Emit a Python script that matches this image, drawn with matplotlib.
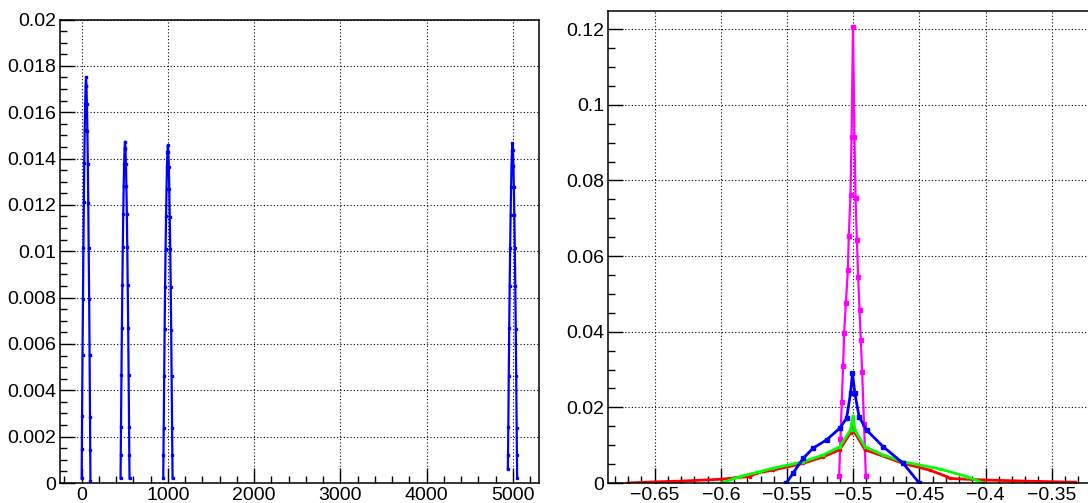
import matplotlib
matplotlib.use("Agg")
import matplotlib.pyplot as plt
from matplotlib.ticker import MultipleLocator, FuncFormatter

plt.rcParams['font.family'] = ['Liberation Sans', 'DejaVu Sans']

# left pad: four narrow peaks (blue)
p1_x = [1, 3.5, 6, 11, 16.5, 21.5, 26.5, 31.5, 36.5, 42, 47, 52, 57, 62, 67.5, 72.5, 77.5, 82.5, 88, 93, 98, 100.5, 103]
p1_y = [0.0002, 0.00145, 0.00287, 0.00553, 0.00796, 0.01015, 0.01211, 0.01381, 0.01524, 0.01636, 0.01715, 0.0175,
        0.01712, 0.01634, 0.0152, 0.01378, 0.01208, 0.01012, 0.00794, 0.00551, 0.00285, 0.00143, 0.0001]
p2_x = [452, 454.5, 457, 462.5, 467.5, 473, 478, 483, 488.5, 493.5, 499, 504, 509, 514.5, 519.5, 525, 530, 535, 540.5, 545.5, 551, 553.5, 556]
p2_y = [0.0002, 0.00122, 0.00242, 0.00465, 0.0067, 0.00854, 0.01019, 0.01162, 0.01283, 0.01377, 0.01444, 0.01473,
        0.01443, 0.01376, 0.01282, 0.01161, 0.01018, 0.00853, 0.00669, 0.00464, 0.00241, 0.00121, 0.0002]
p3_x = [947, 949.5, 952.5, 958, 963, 968.5, 974, 979.5, 985, 990, 995.5, 1001, 1006.5, 1012, 1017, 1022.5, 1028, 1033.5, 1039, 1044, 1049.5, 1052.5, 1055]
p3_y = [0.0002, 0.00121, 0.00239, 0.00461, 0.00663, 0.00846, 0.01009, 0.0115, 0.0127, 0.01363, 0.01429, 0.01458,
        0.01428, 0.01362, 0.01269, 0.01149, 0.01008, 0.00845, 0.00662, 0.0046, 0.00238, 0.0012, 0.0002]
p4_x = [4942, 4944.5, 4947.5, 4953, 4958, 4963.5, 4969, 4974.5, 4980, 4985, 4990.5, 4996, 5001.5, 5007, 5012, 5017.5, 5023, 5028.5, 5034, 5039, 5044.5, 5047.5, 5050]
p4_y = [0.0006, 0.00122, 0.0024, 0.00463, 0.00667, 0.0085, 0.01014, 0.01157, 0.01277, 0.01371, 0.01437, 0.01466,
        0.01436, 0.0137, 0.01276, 0.01156, 0.01013, 0.00849, 0.00666, 0.00462, 0.00239, 0.00121, 0.0002]

# right pad: four distributions around -0.5
mag_x = [-0.5106, -0.5096, -0.5086, -0.5076, -0.5068, -0.5055, -0.5040, -0.5033, -0.5020, -0.5012, -0.5001,
         -0.4990, -0.4982, -0.4972, -0.4962, -0.4952, -0.4942, -0.4932, -0.4918, -0.4904]
mag_y = [0.0018, 0.0116, 0.0213, 0.0309, 0.0397, 0.0476, 0.0563, 0.0653, 0.0762, 0.0915, 0.1206,
         0.0915, 0.0754, 0.0643, 0.0545, 0.0458, 0.0378, 0.0294, 0.0156, 0.0018]
blue_x = [-0.5504, -0.5454, -0.5378, -0.5303, -0.5201, -0.5101, -0.5050, -0.5020, -0.5005,
          -0.4987, -0.4955, -0.4899, -0.4773, -0.4622, -0.4501]
blue_y = [0.0, 0.0026, 0.0065, 0.0092, 0.0114, 0.0145, 0.0171, 0.0237, 0.0290,
          0.0237, 0.0175, 0.0140, 0.0096, 0.0052, 0.0]
green_x = [-0.5995, -0.5857, -0.5706, -0.5605, -0.5378, -0.5227, -0.5101, -0.5020, -0.5002,
           -0.4987, -0.4911, -0.4773, -0.4622, -0.4344, -0.4142, -0.4017]
green_y = [0.0, 0.0017, 0.0030, 0.0039, 0.0056, 0.0074, 0.0096, 0.0140, 0.0177,
           0.0140, 0.0096, 0.0074, 0.0056, 0.0037, 0.0017, 0.0]
red_x = [-0.6702, -0.6500, -0.6300, -0.5995, -0.5857, -0.5781, -0.5731, -0.5605, -0.5378, -0.5227, -0.5101,
         -0.5020, -0.5002, -0.4987, -0.4911, -0.4622, -0.4420, -0.4293, -0.4269, -0.4017, -0.3700, -0.3323]
red_y = [0.0, 0.0003, 0.0005, 0.0010, 0.0015, 0.0017, 0.0026, 0.0034, 0.0052, 0.0069, 0.0088,
         0.0133, 0.0168, 0.0133, 0.0088, 0.0052, 0.0034, 0.0017, 0.0012, 0.0008, 0.0005, 0.0002]

W, H = 1088, 503
fig = plt.figure(figsize=(W / 100, H / 100), dpi=100)
ax1 = fig.add_axes([60 / W, 20 / H, (538.7 - 60) / W, (483 - 19.5) / H])
ax2 = fig.add_axes([608.3 / W, 20 / H, (1098 - 608.3) / W, (483 - 11) / H])

fmt = FuncFormatter(lambda v, pos: ('%g' % v).replace('-', '\u2212'))

for ax in (ax1, ax2):
    ax.tick_params(which='both', direction='in', top=False, right=False, labelsize=14, width=1)
    ax.tick_params(which='major', length=10.5, pad=3)
    ax.tick_params(which='minor', length=5)
    for s in ax.spines.values():
        s.set_linewidth(1.1)
    ax.grid(True, which='major', color='black', linestyle=(0, (1, 2)), linewidth=0.8)
    ax.xaxis.set_major_formatter(fmt)
    ax.yaxis.set_major_formatter(fmt)

for px, py in [(p1_x, p1_y), (p2_x, p2_y), (p3_x, p3_y), (p4_x, p4_y)]:
    ax1.plot(px, py, color='#0000ff', lw=1.6, marker='s', ms=2, mec='#0000ff')
ax1.set_xlim(-250, 5300)
ax1.set_ylim(0, 0.02)
ax1.xaxis.set_major_locator(MultipleLocator(1000))
ax1.xaxis.set_minor_locator(MultipleLocator(200))
ax1.yaxis.set_major_locator(MultipleLocator(0.002))
ax1.yaxis.set_minor_locator(MultipleLocator(0.0005))

ax2.plot(mag_x, mag_y, color='#ff00ff', lw=1.6, marker='s', ms=2.2)
ax2.plot(red_x, red_y, color='#ff0000', lw=2.0, marker='s', ms=1.8)
ax2.plot(green_x, green_y, color='#00ff00', lw=2.0, marker='s', ms=1.8)
ax2.plot(blue_x, blue_y, color='#0000ff', lw=2.0, marker='s', ms=2.2)
ax2.set_xlim(-0.685, -0.315)
ax2.set_ylim(0, 0.1248)
ax2.xaxis.set_major_locator(MultipleLocator(0.05))
ax2.xaxis.set_minor_locator(MultipleLocator(0.01))
ax2.yaxis.set_major_locator(MultipleLocator(0.02))
ax2.yaxis.set_minor_locator(MultipleLocator(0.005))

fig.savefig('out.png', dpi=100)
